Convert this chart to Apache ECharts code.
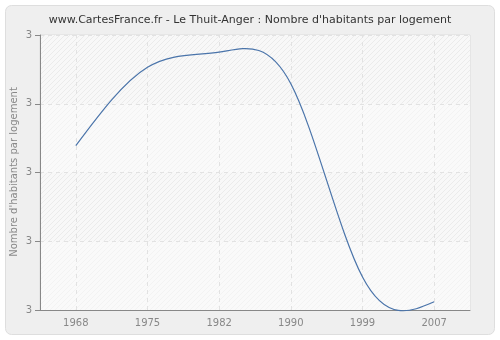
<!DOCTYPE html>
<html><head><meta charset="utf-8">
<script src="https://cdn.jsdelivr.net/npm/echarts@6/dist/echarts.min.js"></script>
<style>html,body{margin:0;padding:0;background:#fff}#c{width:500px;height:340px}</style>
</head><body><div id="c"></div>
<script>
var years = ['1968','1975','1982','1990','1999','2007'];
var values = [2.839, 2.953, 2.975, 2.929, 2.648, 2.612];
var yMin = 2.6, yMax = 3.0, yStep = 0.1;
var yName = "Nombre d'habitants par logement";

function hatch(bg, line){
  var s = 5;
  var c = document.createElement('canvas'); c.width = s; c.height = s;
  var g = c.getContext('2d'); g.fillStyle = bg; g.fillRect(0,0,s,s);
  g.strokeStyle = line; g.lineWidth = 1;
  g.beginPath(); g.moveTo(0,s); g.lineTo(s,0); g.moveTo(-1,1); g.lineTo(1,-1); g.moveTo(s-1,s+1); g.lineTo(s+1,s-1); g.stroke();
  return {image: c, repeat: 'repeat'};
}
// natural cubic spline through screen points, as bezier path
function splinePath(pts){
  var n = pts.length, i;
  var h = [], M = new Array(n).fill(0);
  for(i=0;i<n-1;i++) h[i] = pts[i+1][0]-pts[i][0];
  var A=[],B=[],C=[],D=[];
  for(i=1;i<n-1;i++){
    A.push(h[i-1]); B.push(2*(h[i-1]+h[i])); C.push(h[i]);
    D.push(6*((pts[i+1][1]-pts[i][1])/h[i]-(pts[i][1]-pts[i-1][1])/h[i-1]));
  }
  var m = B.length;
  for(i=1;i<m;i++){ var w=A[i]/B[i-1]; B[i]-=w*C[i-1]; D[i]-=w*D[i-1]; }
  var X = new Array(m);
  for(i=m-1;i>=0;i--){ X[i]=(D[i]-(i<m-1?C[i]*X[i+1]:0))/B[i]; }
  for(i=0;i<m;i++) M[i+1]=X[i];
  var p = 'M'+pts[0][0]+' '+pts[0][1];
  for(i=0;i<n-1;i++){
    var slope=(pts[i+1][1]-pts[i][1])/h[i];
    var m0 = slope - h[i]*(2*M[i]+M[i+1])/6;
    var m1 = slope + h[i]*(M[i]+2*M[i+1])/6;
    p += ' C'+(pts[i][0]+h[i]/3)+' '+(pts[i][1]+m0*h[i]/3)+' '+(pts[i+1][0]-h[i]/3)+' '+(pts[i+1][1]-m1*h[i]/3)+' '+pts[i+1][0]+' '+pts[i+1][1];
  }
  return p;
}
var chart = echarts.init(document.getElementById('c'), null, {renderer:'canvas'});
chart.setOption({
  animation:false,
  backgroundColor:'#fff',
  graphic:[
    {type:'rect', z:-10, shape:{x:5.5,y:5.5,width:489,height:329,r:6}, style:{fill:'#efefef', stroke:'#dedede', lineWidth:1}},
    {type:'text', x:14, y:172, rotation:Math.PI/2, z:10,
     style:{text:yName, fill:'#888', font:'10px "DejaVu Sans"', align:'center', verticalAlign:'middle'}}
  ],
  title:{text:"www.CartesFrance.fr - Le Thuit-Anger : Nombre d'habitants par logement", left:'center', top:10,
    textStyle:{fontFamily:'DejaVu Sans', fontSize:11, fontWeight:'normal', color:'#333'}},
  grid:{left:40, right:30, top:35, bottom:30, outerBoundsMode:'none', show:true, backgroundColor:'#fafafa', borderColor:'#dcdcdc', borderWidth:1},
  xAxis:{type:'category', data:years, boundaryGap:true,
    axisLine:{lineStyle:{color:'#888'}}, axisTick:{alignWithLabel:true, length:5, lineStyle:{color:'#888'}},
    axisLabel:{color:'#888', fontFamily:'DejaVu Sans', fontSize:10, margin:8},
    splitLine:{show:false}},
  yAxis:{type:'value', min:yMin, max:yMax, interval:yStep,
    axisLine:{show:true, lineStyle:{color:'#888'}}, axisTick:{show:true, length:5, lineStyle:{color:'#888'}},
    axisLabel:{color:'#888', fontFamily:'DejaVu Sans', fontSize:10, margin:8, formatter:function(v){return Math.round(v).toString();}},
    splitLine:{show:true, lineStyle:{color:'#e2e2e2', type:[4,4]}},
    splitArea:{show:true, areaStyle:{color:[hatch('#fafafa','#f3f3f3'), hatch('#f8f8f8','#ebebeb')]}}},
  series:[
    {type:'line', data:values, symbol:'none', lineStyle:{opacity:0}, silent:true,
     markLine:{silent:true, symbol:'none', label:{show:false}, lineStyle:{color:'#e2e2e2', type:[4,4], width:1},
       data: years.map(function(y){return {xAxis:y};})}},
    {type:'custom', data:values.map(function(v,i){return [i,v];}), z:5,
     renderItem:function(params, api){
       if(params.dataIndex!==0) return null;
       var pts = values.map(function(v,i){return api.coord([i,v]);});
       return {type:'path', shape:{pathData:splinePath(pts)}, style:{fill:null, stroke:'#4a74aa', lineWidth:1.2}};
     }}
  ]
});
</script></body></html>
